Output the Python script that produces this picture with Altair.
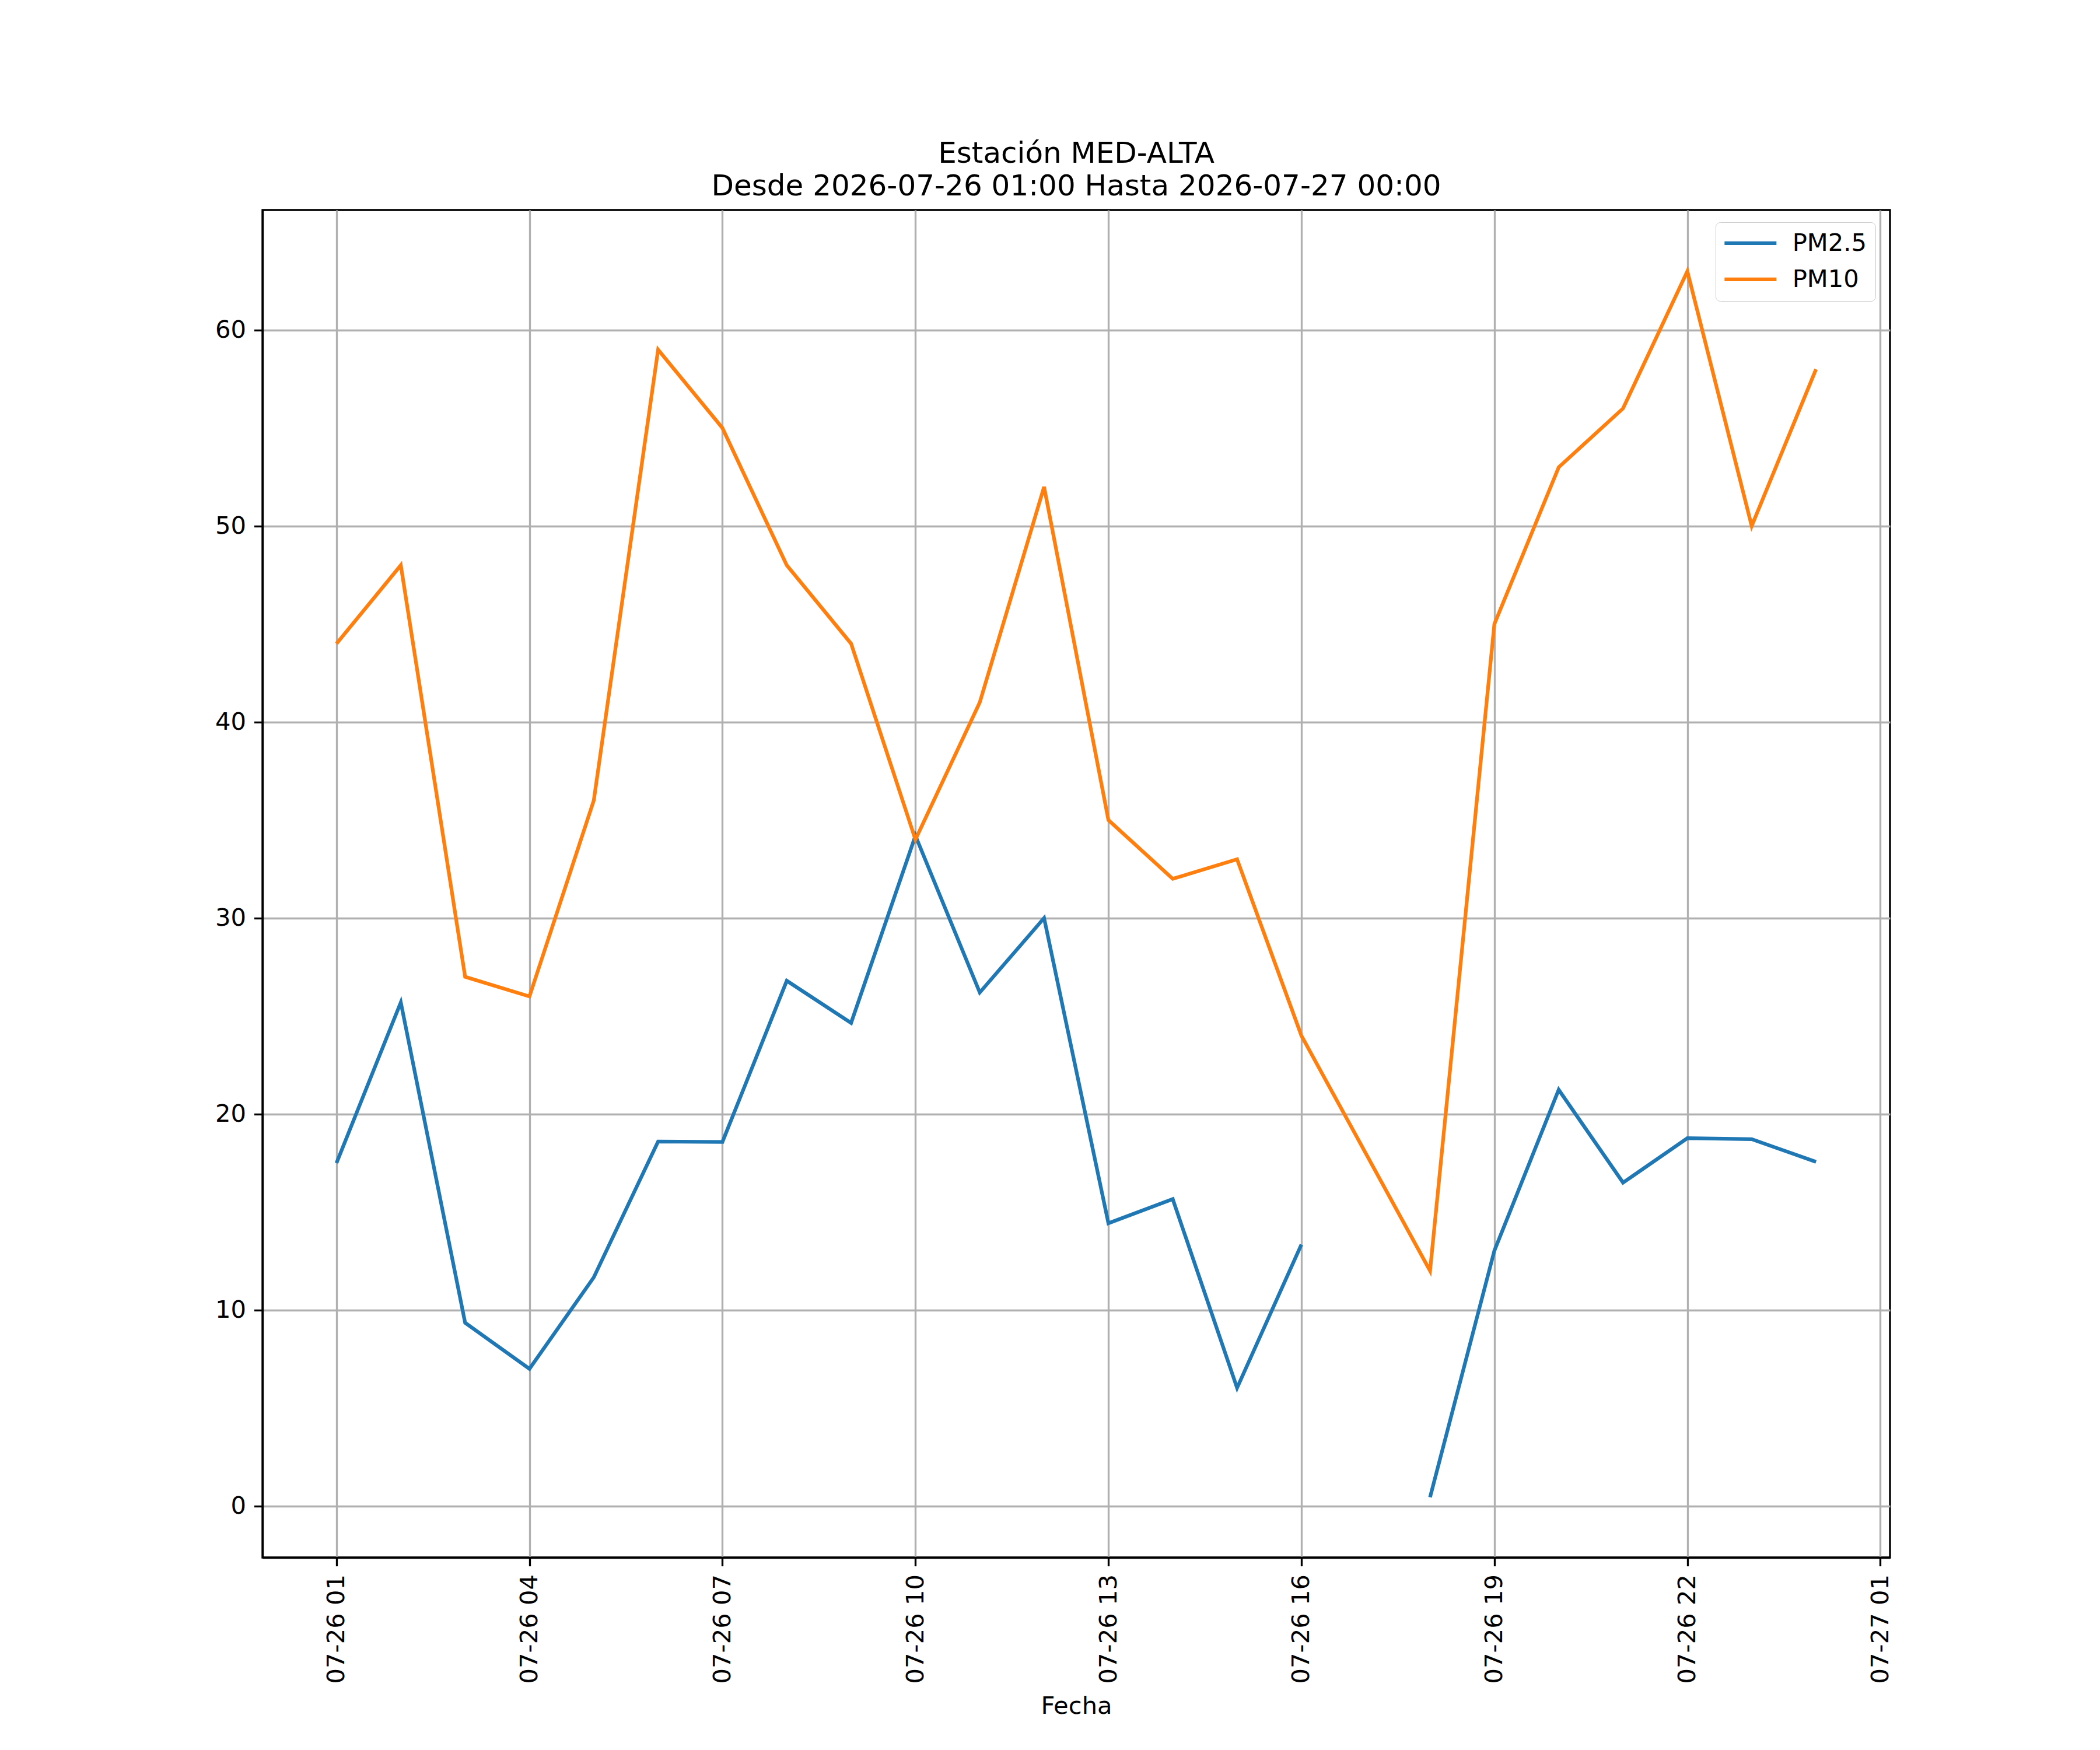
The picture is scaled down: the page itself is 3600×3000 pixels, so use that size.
import altair as alt
import pandas as pd

# ---- data ----
fechas = [
    "2026-07-26T01:00:00", "2026-07-26T02:00:00", "2026-07-26T03:00:00",
    "2026-07-26T04:00:00", "2026-07-26T05:00:00", "2026-07-26T06:00:00",
    "2026-07-26T07:00:00", "2026-07-26T08:00:00", "2026-07-26T09:00:00",
    "2026-07-26T10:00:00", "2026-07-26T11:00:00", "2026-07-26T12:00:00",
    "2026-07-26T13:00:00", "2026-07-26T14:00:00", "2026-07-26T15:00:00",
    "2026-07-26T16:00:00", "2026-07-26T17:00:00", "2026-07-26T18:00:00",
    "2026-07-26T19:00:00", "2026-07-26T20:00:00", "2026-07-26T21:00:00",
    "2026-07-26T22:00:00", "2026-07-26T23:00:00", "2026-07-27T00:00:00",
]
pm25 = [17.5, 25.7, 9.35, 7.0, 11.67, 18.6, 18.58, 26.8, 24.65, 34.2,
        26.2, 30.0, 14.43, 15.66, 6.03, 13.34, None, 0.45, 13.03, 21.24,
        16.5, 18.77, 18.72, 17.56]
pm10 = [44, 48, 27, 26, 36, 59, 55, 48, 44, 34, 41, 52, 35, 32, 33, 24,
        18, 12, 45, 53, 56, 63, 50, 58]
series = ["PM2.5", "PM10"]
colores = ["#1f77b4", "#ff7f0e"]
y_ticks = [0, 10, 20, 30, 40, 50, 60]
x_tick_hours = [(26, 1), (26, 4), (26, 7), (26, 10), (26, 13), (26, 16),
                (26, 19), (26, 22), (27, 1)]
titulo = ["Estación MED-ALTA", "Desde 2026-07-26 01:00 Hasta 2026-07-27 00:00"]

rows = []
for f, v in zip(fechas, pm25):
    rows.append({"fecha": f, "serie": "PM2.5", "valor": v})
for f, v in zip(fechas, pm10):
    rows.append({"fecha": f, "serie": "PM10", "valor": v})
df = pd.DataFrame(rows)

FONT = "DejaVu Sans"
FS = 41.67
LW = 6.25
GW = 3.33

x_values = [alt.DateTime(year=2026, month=7, date=d, hours=h) for d, h in x_tick_hours]

chart = (
    alt.Chart(df)
    .mark_line(strokeWidth=LW, invalid="break-paths-show-domains", clip=True)
    .encode(
        x=alt.X(
            "fecha:T",
            title="Fecha",
            scale=alt.Scale(
                domain=[
                    alt.DateTime(year=2026, month=7, date=25, hours=23, minutes=51),
                    alt.DateTime(year=2026, month=7, date=27, hours=1, minutes=9),
                ],
                nice=False,
            ),
            axis=alt.Axis(
                values=x_values,
                format="%m-%d %H",
                formatType="time",
                labelAngle=270,
                labelAlign="right",
                labelBaseline="middle",
                labelPadding=14,
                labelLimit=0,
                titlePadding=34,
            ),
        ),
        y=alt.Y(
            "valor:Q",
            title=None,
            scale=alt.Scale(domain=[-2.625, 66.125], nice=False, zero=False),
            axis=alt.Axis(values=y_ticks, labelPadding=14),
        ),
        color=alt.Color(
            "serie:N",
            scale=alt.Scale(domain=series, range=colores),
            legend=alt.Legend(
                title=None,
                orient="none",
                legendX=2491,
                legendY=21,
                symbolType="M-3,0H3",
                symbolSize=880,
                symbolStrokeWidth=LW,
                symbolOffset=24,
                labelFontSize=FS,
                labelFont=FONT,
                labelOffset=51,
                padding=15,
                rowPadding=19,
                strokeColor="#cccccc",
                fillColor="white",
                cornerRadius=8,
                labelColor="black",
            ),
        ),
    )
    .properties(
        width=2790,
        height=2310,
        autosize=alt.AutoSizeParams(type="none"),
        padding={"left": 442, "top": 352, "right": 352, "bottom": 322},
        title=alt.TitleParams(
            text=titulo,
            font=FONT,
            fontSize=50,
            fontWeight="normal",
            lineHeight=56,
            anchor="middle",
            frame="group",
            baseline="bottom",
            offset=-35,
            color="black",
        ),
    )
    .configure_view(stroke="black", strokeWidth=GW)
    .configure_axis(
        labelFont=FONT,
        labelFontSize=FS,
        labelColor="black",
        titleFont=FONT,
        titleFontSize=FS,
        titleFontWeight="normal",
        titleColor="black",
        grid=True,
        gridColor="#b0b0b0",
        gridWidth=GW,
        domainColor="black",
        domainWidth=GW,
        tickColor="black",
        tickWidth=GW,
        tickSize=14.6,
    )
)

chart.save("out.html", embed_options={"renderer": "svg", "actions": False})
